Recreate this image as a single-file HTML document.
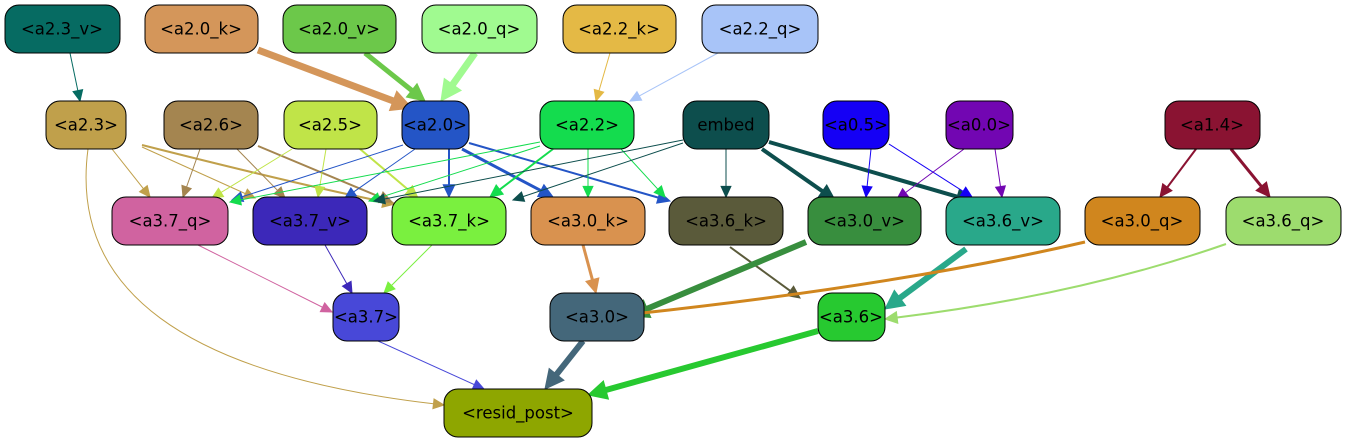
<!DOCTYPE html>
<html><head><meta charset="utf-8"><style>
html,body{margin:0;padding:0;background:#fff;}
svg{display:block}
text{font-family:"DejaVu Sans","Liberation Sans",sans-serif;font-size:16.5px;text-anchor:middle;dominant-baseline:central;fill:#000}
</style></head><body>
<svg id="s" width="1347" height="443" viewBox="0 0 1347 443" xmlns="http://www.w3.org/2000/svg">
<g id="edges"></g>
<g stroke="#000" stroke-width="1">
<rect x="5" y="5" width="115" height="48" rx="14" fill="#066b62"/>
<rect x="145" y="5" width="113" height="48" rx="14" fill="#d4965a"/>
<rect x="283" y="5" width="113" height="48" rx="14" fill="#6cc84a"/>
<rect x="422" y="5" width="115" height="48" rx="14" fill="#a0fa90"/>
<rect x="563" y="5" width="113" height="48" rx="14" fill="#e4b945"/>
<rect x="702" y="5" width="116" height="48" rx="14" fill="#a8c4f8"/>

<rect x="46" y="101" width="80" height="48" rx="14" fill="#c0a04b"/>
<rect x="164" y="101" width="94" height="48" rx="14" fill="#a48550"/>
<rect x="284" y="101" width="93" height="48" rx="14" fill="#c0e448"/>
<rect x="402" y="101" width="67" height="48" rx="14" fill="#2455c6"/>
<rect x="540" y="101" width="94" height="48" rx="14" fill="#14dc4e"/>
<rect x="683" y="101" width="86" height="48" rx="14" fill="#0d4e4d"/>
<rect x="823" y="101" width="66" height="48" rx="14" fill="#1500f5"/>
<rect x="946" y="101" width="67" height="48" rx="14" fill="#7206b2"/>
<rect x="1165" y="101" width="95" height="48" rx="14" fill="#8a1332"/>

<rect x="112" y="197" width="116" height="48" rx="14" fill="#d063a0"/>
<rect x="253" y="197" width="114" height="48" rx="14" fill="#3c28b9"/>
<rect x="392" y="197" width="114" height="48" rx="14" fill="#7af03f"/>
<rect x="531" y="197" width="114" height="48" rx="14" fill="#d9924f"/>
<rect x="669" y="197" width="114" height="48" rx="14" fill="#5a5a3a"/>
<rect x="808" y="197" width="113" height="48" rx="14" fill="#388e3e"/>
<rect x="946" y="197" width="114" height="48" rx="14" fill="#29a88a"/>
<rect x="1085" y="197" width="115" height="48" rx="14" fill="#d0861e"/>
<rect x="1226" y="197" width="115" height="48" rx="14" fill="#9ddc6e"/>

<rect x="333" y="293" width="66" height="48" rx="14" fill="#4848d8"/>
<rect x="550" y="293" width="94" height="48" rx="14" fill="#44677a"/>
<rect x="818" y="293" width="67" height="48" rx="14" fill="#27c930"/>

<rect x="444" y="389" width="148" height="48" rx="14" fill="#8ea600"/>
</g>
<g>
<text x="62" y="29">&lt;a2.3_v&gt;</text>
<text x="201" y="29">&lt;a2.0_k&gt;</text>
<text x="339" y="29">&lt;a2.0_v&gt;</text>
<text x="479" y="29">&lt;a2.0_q&gt;</text>
<text x="619" y="29">&lt;a2.2_k&gt;</text>
<text x="760" y="29">&lt;a2.2_q&gt;</text>
<text x="86" y="125">&lt;a2.3&gt;</text>
<text x="211" y="125">&lt;a2.6&gt;</text>
<text x="330" y="125">&lt;a2.5&gt;</text>
<text x="435" y="125">&lt;a2.0&gt;</text>
<text x="587" y="125">&lt;a2.2&gt;</text>
<text x="726" y="125">embed</text>
<text x="856" y="125">&lt;a0.5&gt;</text>
<text x="979" y="125">&lt;a0.0&gt;</text>
<text x="1212" y="125">&lt;a1.4&gt;</text>
<text x="170" y="221">&lt;a3.7_q&gt;</text>
<text x="310" y="221">&lt;a3.7_v&gt;</text>
<text x="449" y="221">&lt;a3.7_k&gt;</text>
<text x="588" y="221">&lt;a3.0_k&gt;</text>
<text x="726" y="221">&lt;a3.6_k&gt;</text>
<text x="864" y="221">&lt;a3.0_v&gt;</text>
<text x="1003" y="221">&lt;a3.6_v&gt;</text>
<text x="1142" y="221">&lt;a3.0_q&gt;</text>
<text x="1283" y="221">&lt;a3.6_q&gt;</text>
<text x="366" y="317">&lt;a3.7&gt;</text>
<text x="597" y="317">&lt;a3.0&gt;</text>
<text x="851" y="317">&lt;a3.6&gt;</text>
<text x="518" y="413">&lt;resid_post&gt;</text>
</g>
</svg>
<script>
var E=[
[70,53,null,80,101,'#066b62',1],
[258,50,null,412,108,'#d4965a',7],
[365,53,null,425,101,'#6cc84a',5],
[475,53,null,441,101,'#a0fa90',7],
[610,53,null,596,101,'#e4b945',1],
[718,53,null,630,101,'#a8c4f8',1],
[112,149,null,150,197,'#c0a04b',1],
[142,147,null,255,198,'#c0a04b',1],
[142,145,[300,185],395,204,'#c0a04b',2],
[88,149,[60,360],444,405,'#c0a04b',1],
[200,149,null,183,197,'#a48550',1],
[237,149,null,285,198,'#a48550',1],
[258,146,null,392,202,'#a48550',2],
[292,149,null,212,198,'#c0e448',1],
[326,149,null,318,197,'#c0e448',1],
[360,149,null,418,198,'#c0e448',2],
[403,145,null,232,200,'#2455c6',1],
[415,149,null,345,198,'#2455c6',1],
[449,149,null,449,197,'#2455c6',2],
[462,149,null,553,197,'#2455c6',3],
[469,143,null,670,201,'#2455c6',2],
[540,142,null,230,202,'#14dc4e',1],
[540,146,null,369,201,'#14dc4e',1],
[553,149,null,490,197,'#14dc4e',2],
[588,149,null,588,197,'#14dc4e',1],
[621,149,null,665,197,'#14dc4e',1],
[683,140,null,374,201,'#0d4e4d',1],
[683,143,null,513,200,'#0d4e4d',1],
[726,149,null,726,197,'#0d4e4d',1],
[762,149,null,835,200,'#0d4e4d',4],
[769,142,null,972,201,'#0d4e4d',4],
[871,149,null,866,197,'#1500f5',1],
[889,144,null,972,197,'#1500f5',1],
[964,149,null,897,199,'#7206b2',1],
[995,149,null,1002,197,'#7206b2',1],
[1196,149,null,1160,197,'#8a1332',2],
[1231,149,null,1270,197,'#8a1332',3],
[198,245,null,332,312,'#d063a0',1],
[325,245,null,352,293,'#3c28b9',1],
[432,245,null,384,293,'#7af03f',1],
[583,245,null,596,293,'#d9924f',3],
[730,247,null,800,298,'#5a5a3a',2],
[806,242,null,630,316,'#388e3e',6],
[966,249,null,885,309,'#29a88a',6],
[1085,242,[900,285],624,315,'#d0861e',3],
[1226,244,[1080,295],885,319,'#9ddc6e',2],
[378,341,null,484,389,'#4848d8',1],
[583,341,null,545,389,'#44677a',6],
[818,331,null,588,395,'#27c930',6]
];
var g=document.getElementById('edges'),h='';
E.forEach(function(e){
 var x1=e[0],y1=e[1],c=e[2],x2=e[3],y2=e[4],col=e[5],w=e[6];
 var px=c?c[0]:x1,py=c?c[1]:y1;
 var dx=x2-px,dy=y2-py,d=Math.hypot(dx,dy);dx/=d;dy/=d;
 var L=9+w*1.6,H=4+w*0.9;
 var bx=x2-dx*L,by=y2-dy*L;
 var path=c?('M'+x1+','+y1+' Q'+c[0]+','+c[1]+' '+bx+','+by):('M'+x1+','+y1+' L'+bx+','+by);
 h+='<path d="'+path+'" fill="none" stroke="'+col+'" stroke-width="'+w+'"/>';
 h+='<polygon points="'+x2+','+y2+' '+(bx-dy*H)+','+(by+dx*H)+' '+(bx+dy*H)+','+(by-dx*H)+'" fill="'+col+'" stroke="'+col+'"/>';
});
g.innerHTML=h;
</script>
</body></html>
